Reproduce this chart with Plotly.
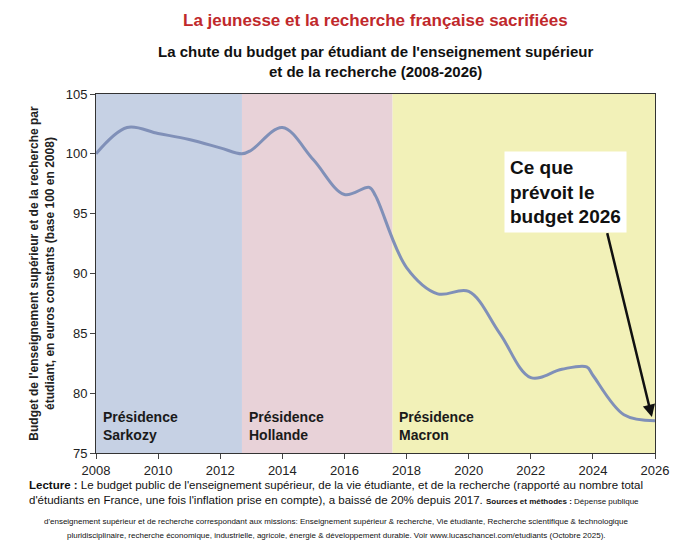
import plotly.graph_objects as go

years = [2008, 2009, 2010, 2011, 2012, 2012.7, 2013, 2014, 2015, 2016, 2016.8, 2017, 2018, 2019, 2020, 2021, 2022, 2023, 2023.8, 2024, 2025, 2026]
values = [100, 102.2, 101.7, 101.2, 100.5, 100.0, 100.3, 102.2, 99.5, 96.6, 97.2, 96.5, 90.5, 88.3, 88.5, 85.0, 81.3, 82.0, 82.2, 81.5, 78.2, 77.7]
presidencies = [("Présidence<br>Sarkozy", 2008, 2012.7, "#c6d1e4"),
                ("Présidence<br>Hollande", 2012.7, 2017.55, "#e8d2d8"),
                ("Présidence<br>Macron", 2017.55, 2026, "#f2f1b8")]

fig = go.Figure()
for name, x0, x1, col in presidencies:
    fig.add_vrect(x0=x0, x1=x1, fillcolor=col, opacity=1, line_width=0, layer="below")
    fig.add_annotation(x=x0 + 0.15, y=75.7, text="<b>" + name + "</b>", showarrow=False,
                       xanchor="left", yanchor="bottom", align="left",
                       font=dict(size=14, color="#1a1a1a", family="Liberation Sans"))
fig.add_trace(go.Scatter(x=years, y=values, mode="lines", line=dict(color="#8090b8", width=3, shape="spline", smoothing=1.0)))

fig.add_annotation(x=2025.9, y=78.0, ax=2024.45, ay=93.5, axref="x", ayref="y",
                   showarrow=True, arrowhead=2, arrowwidth=2.5, arrowcolor="#111", text="")
fig.add_annotation(x=2025.1, y=96.8, text="<b>Ce que<br>prévoit le<br>budget 2026</b>", showarrow=False,
                   xanchor="right", yanchor="middle", align="left", bgcolor="white",
                   font=dict(size=19, color="#111", family="Liberation Sans"), borderpad=5)

fig.update_layout(
    width=680, height=546, paper_bgcolor="white", plot_bgcolor="white", showlegend=False,
    margin=dict(l=88, r=33, t=86, b=101),
    font=dict(family="Liberation Sans", color="#222"),
    xaxis=dict(range=[2008, 2026], tickvals=list(range(2008, 2027, 2)), showgrid=False,
               showline=True, linecolor="#333", mirror=True, ticks="outside", tickfont=dict(size=13)),
    yaxis=dict(range=[75, 105], tickvals=list(range(75, 106, 5)), showgrid=False,
               showline=True, linecolor="#333", mirror=True, ticks="outside", tickfont=dict(size=13),
               title=dict(text="<b>Budget de l'enseignement supérieur et de la recherche par<br>étudiant, en euros constants (base 100 en 2008)</b>",
                          font=dict(size=12), standoff=8)),
)
fig.add_annotation(xref="paper", yref="paper", x=0.5, y=1, yshift=62, showarrow=False, xanchor="center", yanchor="bottom",
                   text="<b>La jeunesse et la recherche française sacrifiées</b>",
                   font=dict(size=17, color="#c0282b"))
fig.add_annotation(xref="paper", yref="paper", x=0.5, y=1, yshift=12, showarrow=False, xanchor="center", yanchor="bottom",
                   text="<b>La chute du budget par étudiant de l'enseignement supérieur<br>et de la recherche (2008-2026)</b>",
                   font=dict(size=15, color="#111"))
fig.add_annotation(xref="paper", yref="paper", x=0.43, y=0, yshift=-24, showarrow=False, xanchor="center", yanchor="top", align="left",
                   text="<b>Lecture :</b> Le budget public de l'enseignement supérieur, de la vie étudiante, et de la recherche (rapporté au nombre total<br>d'étudiants en France, une fois l'inflation prise en compte), a baissé de 20% depuis 2017. <b><span style='font-size:8px'>Sources et méthodes :</span></b><span style='font-size:8px'> Dépense publique</span>",
                   font=dict(size=11.5, color="#111"))
fig.add_annotation(xref="paper", yref="paper", x=0.43, y=0, yshift=-62, showarrow=False, xanchor="center", yanchor="top", align="center",
                   text="d'enseignement supérieur et de recherche correspondant aux missions: Enseignement supérieur & recherche, Vie étudiante, Recherche scientifique & technologique",
                   font=dict(size=8, color="#111"))
fig.add_annotation(xref="paper", yref="paper", x=0.43, y=0, yshift=-76, showarrow=False, xanchor="center", yanchor="top", align="center",
                   text="pluridisciplinaire, recherche économique, industrielle, agricole, énergie & développement durable. Voir www.lucaschancel.com/etudiants (Octobre 2025).",
                   font=dict(size=8, color="#111"))
fig.write_html("out.html")
